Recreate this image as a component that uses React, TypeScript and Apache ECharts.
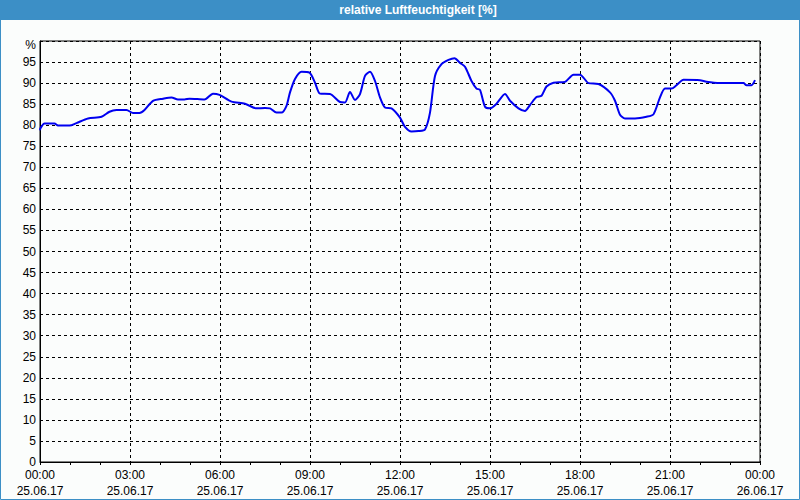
import React, { useEffect, useRef } from "react";
import * as echarts from "echarts";

const titleText = "relative Luftfeuchtigkeit [%]";
const minutes = [0, 1, 9, 29, 36, 59, 73, 96, 123, 139, 153, 173, 186, 199, 209, 226, 246, 263, 276, 289, 299, 329, 346, 359, 383, 410, 433, 450, 460, 473, 483, 493, 500, 510, 523, 539, 550, 560, 580, 600, 610, 620, 630, 640, 650, 660, 670, 680, 690, 703, 720, 730, 743, 757, 770, 780, 790, 803, 817, 829, 840, 850, 863, 873, 880, 890, 900, 913, 930, 940, 957, 970, 980, 993, 1003, 1013, 1027, 1050, 1067, 1080, 1097, 1117, 1140, 1150, 1160, 1170, 1190, 1213, 1227, 1240, 1250, 1263, 1273, 1287, 1320, 1333, 1360, 1407, 1413, 1423, 1430];
const humidity = [78.8, 79.3, 80.4, 80.4, 79.9, 79.9, 80.5, 81.6, 82.0, 83.2, 83.6, 83.6, 82.9, 82.9, 83.6, 85.8, 86.3, 86.6, 86.1, 86.1, 86.3, 86.1, 87.5, 87.2, 85.6, 85.1, 84.0, 84.1, 84.0, 83.0, 83.0, 84.6, 87.8, 91.0, 92.7, 92.5, 90.1, 87.5, 87.4, 85.5, 85.4, 87.9, 86.0, 87.4, 91.7, 92.7, 90.5, 86.6, 84.2, 84.0, 81.8, 79.6, 78.5, 78.6, 79.0, 83.0, 91.7, 94.5, 95.5, 95.9, 94.8, 93.9, 90.5, 88.7, 88.4, 84.4, 84.0, 85.1, 87.4, 85.8, 84.0, 83.4, 84.8, 86.7, 87.0, 89.2, 90.1, 90.3, 92.0, 92.0, 90.0, 89.8, 87.8, 85.8, 82.5, 81.6, 81.6, 82.0, 82.6, 86.6, 88.7, 88.7, 89.5, 90.8, 90.7, 90.3, 90.0, 90.0, 89.5, 89.5, 90.7];
const dayLabels = ["25.06.17", "26.06.17"];
const yTicks = [0, 5, 10, 15, 20, 25, 30, 35, 40, 45, 50, 55, 60, 65, 70, 75, 80, 85, 90, 95];

const FONT = "Liberation Sans";

export default function App() {
  const ref = useRef<HTMLDivElement>(null);
  useEffect(() => {
    if (!ref.current) return;
    const chart = echarts.init(ref.current, null, { renderer: "svg" });
    const data = minutes.map((m, i) => [m, humidity[i]]);
    chart.setOption({
      animation: false,
      backgroundColor: "#fbfdfc",
      grid: {
        left: 40,
        right: 40,
        top: 41,
        bottom: 38,
        show: true,
        borderColor: "#000",
        borderWidth: 1,
        backgroundColor: "transparent",
      },
      graphic: [
        {
          type: "rect",
          shape: { x: 0.5, y: 0.5, width: 799, height: 499 },
          style: { fill: "none", stroke: "#3c8fc6", lineWidth: 1 },
          silent: true,
          z: 0,
        },
        {
          type: "rect",
          shape: { x: 0, y: 0, width: 800, height: 20 },
          style: { fill: "#3c8fc6" },
          silent: true,
        },
        {
          type: "text",
          x: 418,
          y: 10,
          style: {
            text: titleText,
            fill: "#ffffff",
            font: `bold 12px "${FONT}"`,
            textAlign: "center",
            textVerticalAlign: "middle",
          },
        },
      ],
      xAxis: {
        type: "value",
        min: 0,
        max: 1440,
        interval: 180,
        axisLine: { show: true, lineStyle: { color: "#000", width: 1 } },
        axisTick: { show: true, length: 3, lineStyle: { color: "#000" } },
        minorTick: { show: true, splitNumber: 3, length: 3, lineStyle: { color: "#000" } },
        splitLine: { show: true, lineStyle: { color: "#000", type: [3, 3], width: 1 } },
        axisLabel: {
          color: "#000",
          fontFamily: FONT,
          fontSize: 12,
          lineHeight: 16,
          margin: 5,
          showMinLabel: true,
          showMaxLabel: true,
          formatter: (v: number) => {
            const h = Math.floor((v % 1440) / 60);
            const mm = Math.round(v % 60);
            const hh = String(h).padStart(2, "0") + ":" + String(mm).padStart(2, "0");
            const day = v >= 1440 ? dayLabels[1] : dayLabels[0];
            return hh + "\n" + day;
          },
        },
      },
      yAxis: {
        type: "value",
        min: 0,
        max: 100,
        interval: 5,
        axisLine: { show: true, lineStyle: { color: "#000" } },
        axisTick: { show: false },
        splitLine: { show: true, lineStyle: { color: "#000", type: [3, 3], width: 1 } },
        axisLabel: {
          color: "#000",
          fontFamily: FONT,
          fontSize: 12,
          margin: 4,
          formatter: (v: number) => (yTicks.indexOf(v) >= 0 ? String(v) : "{p|%}"),
          rich: {
            p: { fontFamily: FONT, fontSize: 12, color: "#000", padding: [8, 0, 0, 0] },
          },
        },
      },
      series: [
        {
          type: "line",
          data,
          showSymbol: false,
          smooth: 0.25,
          lineStyle: { color: "#0000f0", width: 2 },
        },
      ],
    });
    return () => chart.dispose();
  }, []);
  return (
    <div
      ref={ref}
      style={{ position: "fixed", left: 0, top: 0, width: 800, height: 500 }}
    />
  );
}
